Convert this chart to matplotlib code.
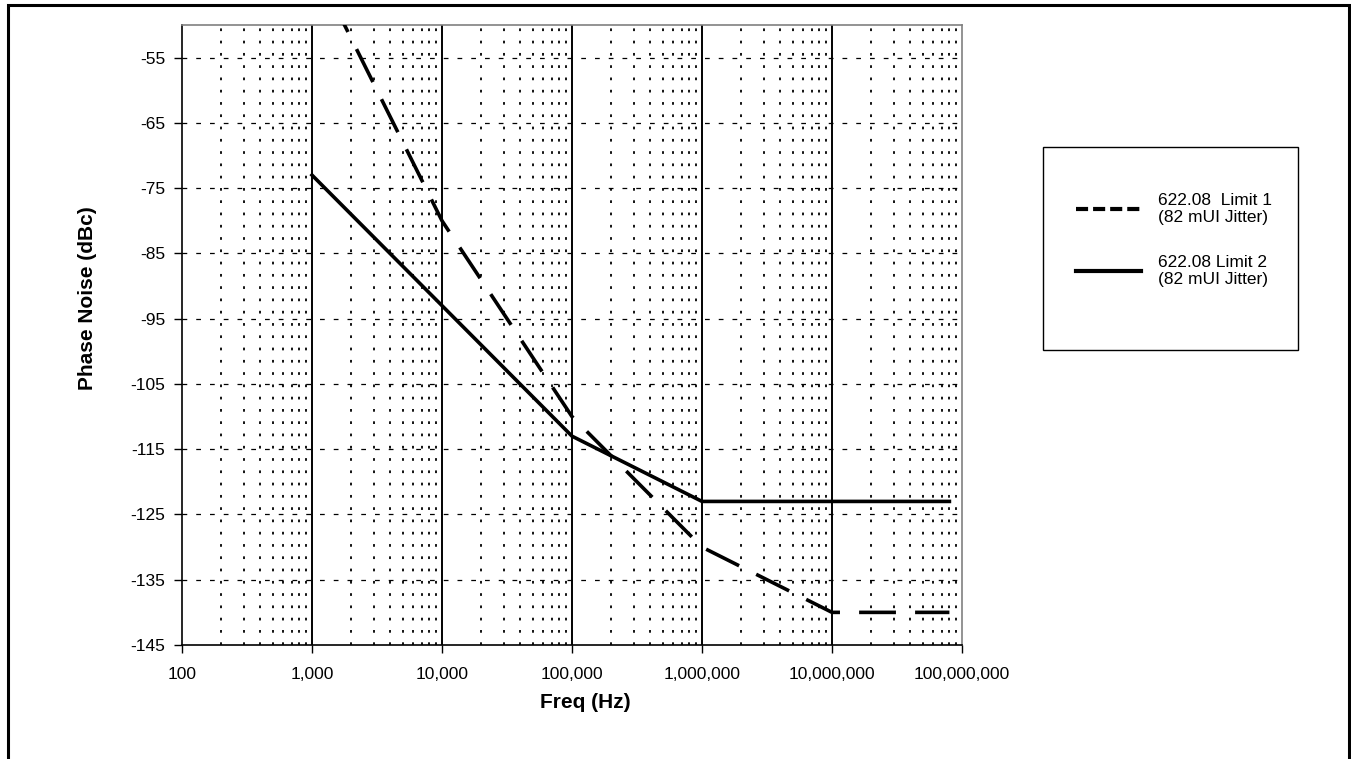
import matplotlib
matplotlib.use('Agg')
import matplotlib.pyplot as plt
from matplotlib.lines import Line2D
from matplotlib.patches import Rectangle
from matplotlib.ticker import FixedLocator, FuncFormatter, LogLocator, NullFormatter

plt.rcParams['font.family'] = ['Liberation Sans', 'DejaVu Sans']
plt.rcParams['axes.unicode_minus'] = False  # обычный дефис в подписях

# Данные: частота (Гц) и фазовый шум (дБн)
freq_limit1 = [1000, 10000, 100000, 1000000, 10000000, 80000000]
noise_limit1 = [-40, -80, -110, -130, -140, -140]
freq_limit2 = [1000, 10000, 100000, 1000000, 80000000]
noise_limit2 = [-73, -93, -113, -123, -123]

label_limit1 = '622.08  Limit 1\n(82 mUI Jitter)'
label_limit2 = '622.08 Limit 2\n(82 mUI Jitter)'
y_ticks = list(range(-145, -54, 10))
x_decades = [1e2, 1e3, 1e4, 1e5, 1e6, 1e7, 1e8]

W, H = 1351, 759
fig = plt.figure(figsize=(W / 100, H / 100), dpi=100)
ax = fig.add_axes([182 / W, 1 - 645 / H, (962 - 182) / W, (645 - 25) / H])

# рамка всей картинки
fig.patches.append(Rectangle((8 / W, -0.05), (1349 - 8) / W, 1.05 - 5 / H,
                             transform=fig.transFigure, fill=False,
                             edgecolor='black', linewidth=2.2))

ax.set_xscale('log')
ax.set_xlim(1e2, 1e8)
ax.set_ylim(-145, -50)

# сетка: вертикальные мелкие точки, декады сплошные, горизонтальные пунктир
ax.xaxis.set_minor_locator(LogLocator(base=10, subs=range(2, 10)))
ax.xaxis.set_minor_formatter(NullFormatter())
ax.grid(True, which='minor', axis='x', color='black', linestyle=(0, (1.5, 5.3)), linewidth=1.3)
for d in x_decades[1:-1]:
    ax.axvline(d, color='black', linewidth=1.4, zorder=1.5)
for yv in y_ticks[1:]:
    ax.axhline(yv, color='black', linestyle=(0, (3.8, 7.2)), linewidth=0.9, zorder=1.5)

ax.plot(freq_limit1, noise_limit1, color='black', linewidth=2.6,
        linestyle=(0, (10.2, 5.3)), dash_capstyle='butt', zorder=3)
ax.plot(freq_limit2, noise_limit2, color='black', linewidth=2.6, zorder=3)

ax.xaxis.set_major_locator(FixedLocator(x_decades))
ax.xaxis.set_major_formatter(FuncFormatter(lambda v, p: f'{int(round(v)):,}'))
ax.yaxis.set_major_locator(FixedLocator(y_ticks))
ax.tick_params(axis='both', which='major', direction='out', length=6, width=1,
               labelsize=12.5, colors='black')
ax.tick_params(axis='x', which='major', pad=10)
ax.tick_params(axis='y', which='major', pad=6)
ax.tick_params(axis='x', which='minor', length=0)

for side in ['left', 'bottom']:
    ax.spines[side].set_color('black')
    ax.spines[side].set_linewidth(1.2)
for side in ['top', 'right']:
    ax.spines[side].set_color('#808080')
    ax.spines[side].set_linewidth(1.2)

fig.text(585 / W, 1 - 703 / H, 'Freq (Hz)', ha='center', va='center',
         fontsize=15, fontweight='bold')
fig.text(88 / W, 1 - 298 / H, 'Phase Noise (dBc)', ha='center', va='center',
         rotation=90, fontsize=15, fontweight='bold')

# легенда в отдельной рамке
fig.patches.append(Rectangle((1043 / W, 1 - 350 / H), (1298 - 1043) / W, (350 - 147) / H,
                             transform=fig.transFigure, fill=False,
                             edgecolor='black', linewidth=1.0))
handles = [Line2D([], [], color='black', linewidth=3, linestyle=(0, (2.9, 1.2))),
           Line2D([], [], color='black', linewidth=3)]
fig.legend(handles, [label_limit1, label_limit2], loc='center left',
           bbox_to_anchor=(1060 / W, 1 - 240 / H),
           frameon=False, fontsize=12.5, handlelength=3.75, handletextpad=1.0,
           labelspacing=1.7)

fig.savefig('out.png', dpi=100)
